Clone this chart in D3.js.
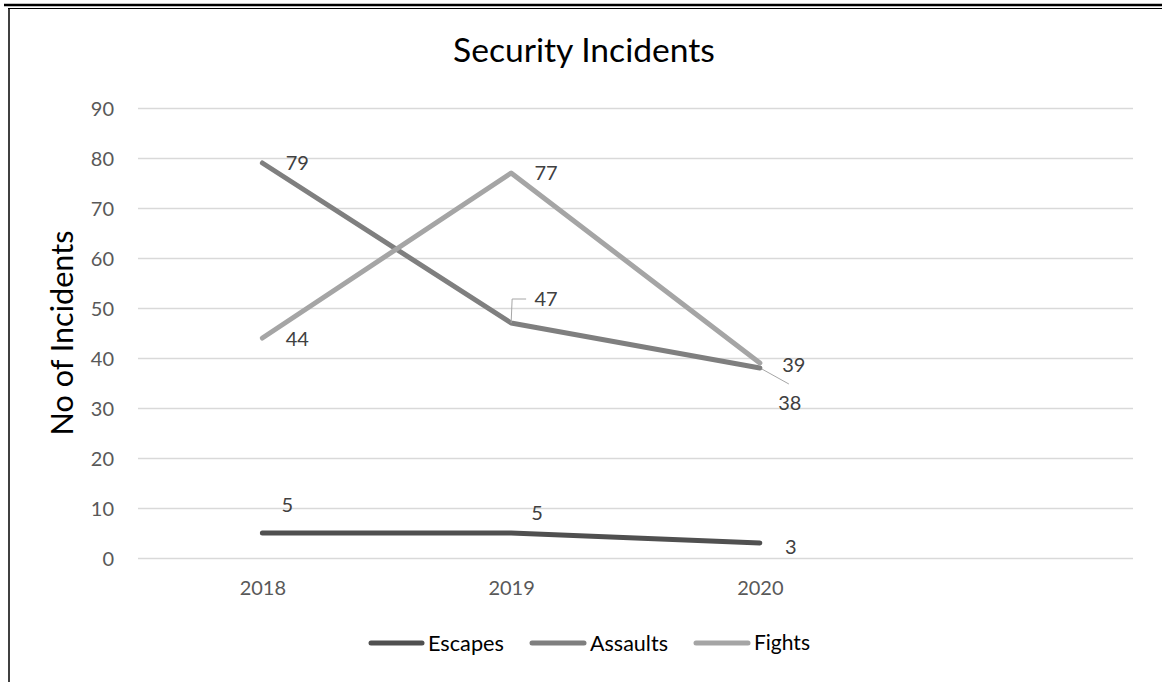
<!DOCTYPE html>
<html>
<head>
<meta charset="utf-8">
<script src="https://cdn.jsdelivr.net/npm/d3@7"></script>
<style>
html,body{margin:0;padding:0;background:#fff;}
svg{display:block;}
text{font-family:Lato,"Open Sans",sans-serif;}
</style>
</head>
<body>
<svg id="chart" width="1162" height="682"></svg>
<script>
const categories = ["2018", "2019", "2020", ""];
const years = ["2018", "2019", "2020"];
const escapes = [5, 5, 3];
const assaults = [79, 47, 38];
const fights = [44, 77, 39];
const yTicks = [0, 10, 20, 30, 40, 50, 60, 70, 80, 90];
const seriesNames = ["Escapes", "Assaults", "Fights"];
const title = "Security Incidents";
const yTitle = "No of Incidents";

const colors = {Escapes: "#505050", Assaults: "#7f7f7f", Fights: "#a5a5a5"};
const series = [
  {name: "Escapes", values: escapes},
  {name: "Assaults", values: assaults},
  {name: "Fights", values: fights}
];

const svg = d3.select("#chart");
const W = 1162, H = 682;

function fit(sel, target) {
  const n = sel.node();
  const base = parseFloat(sel.attr("font-size"));
  const w = n.getComputedTextLength();
  if (w > 0) sel.attr("font-size", base * target / w);
  return sel;
}

// page decoration: rule lines and chart border
svg.append("line").attr("x1", 4).attr("x2", W).attr("y1", 5).attr("y2", 5)
  .attr("stroke", "#000").attr("stroke-width", 2.5);
svg.append("line").attr("x1", 8).attr("x2", W).attr("y1", 8.5).attr("y2", 8.5)
  .attr("stroke", "#000").attr("stroke-width", 1);
svg.append("line").attr("x1", 9).attr("x2", 9).attr("y1", 8).attr("y2", H)
  .attr("stroke", "#000").attr("stroke-width", 1.5);

const x = d3.scalePoint().domain(categories).range([138, 1133]).padding(0.5);
const y = d3.scaleLinear().domain([0, 90]).range([558, 108]);

// gridlines
const yAxis = d3.axisLeft(y).tickValues(yTicks).tickSize(-(1133 - 138)).tickPadding(24);
const gy = svg.append("g").attr("transform", "translate(138,0)").call(yAxis);
gy.select(".domain").remove();
gy.selectAll(".tick line").attr("stroke", "#d9d9d9").attr("stroke-width", 1.5);
gy.selectAll(".tick text").attr("fill", "#595959").attr("font-size", 20)
  .attr("font-family", "Lato").attr("dy", "0.35em");

// x axis labels
const xAxis = d3.axisBottom(x).tickValues(years).tickSize(0).tickPadding(0);
const gx = svg.append("g").attr("transform", "translate(0,588)").call(xAxis);
gx.select(".domain").remove();
gx.selectAll(".tick text").attr("fill", "#595959").attr("font-size", 20)
  .attr("font-family", "Lato").attr("dy", "0.35em");

// title
const t = svg.append("text").attr("x", 584).attr("y", 62).attr("text-anchor", "middle")
  .attr("font-size", 28).attr("fill", "#000").text(title);
fit(t, 262);

// y title
const yt = svg.append("text").attr("transform", "translate(73,333) rotate(-90)")
  .attr("text-anchor", "middle").attr("font-size", 26).attr("fill", "#000").text(yTitle);
fit(yt, 205);

// lines
const line = d3.line().x((d, i) => x(years[i])).y(d => y(d));
svg.append("g").selectAll("path").data(series).join("path")
  .attr("d", d => line(d.values))
  .attr("fill", "none")
  .attr("stroke", d => colors[d.name])
  .attr("stroke-width", 5)
  .attr("stroke-linecap", "round")
  .attr("stroke-linejoin", "round");

// data labels: offsets (dx,dy) relative to the point, in px
const labelOffsets = {
  Escapes: [[25, -28], [26, -20], [31, 4]],
  Assaults: [[35, 0], [35, -24], [30, 35]],
  Fights: [[35, 1], [35, 0], [34, 2]]
};
const lg = svg.append("g");
series.forEach(s => {
  s.values.forEach((v, i) => {
    const px = x(years[i]), py = y(v);
    const [dx, dy] = labelOffsets[s.name][i];
    lg.append("text").attr("x", px + dx).attr("y", py + dy).attr("dy", "0.35em")
      .attr("text-anchor", "middle").attr("font-size", 20).attr("fill", "#404040")
      .text(v);
  });
});
// leader lines (Assaults 2019 and 2020)
const a19x = x("2019"), a19y = y(assaults[1]);
svg.append("path")
  .attr("d", `M${a19x},${a19y} L${a19x + 1},${a19y - 24} L${a19x + 15},${a19y - 24}`)
  .attr("fill", "none").attr("stroke", "#a6a6a6").attr("stroke-width", 1);
const a20x = x("2020"), a20y = y(assaults[2]);
svg.append("line").attr("x1", a20x + 2).attr("y1", a20y + 1)
  .attr("x2", a20x + 29).attr("y2", a20y + 16)
  .attr("stroke", "#a6a6a6").attr("stroke-width", 1);

// legend
const legendItems = [
  {name: "Escapes", x1: 371, x2: 422, tx: 428, tw: 76},
  {name: "Assaults", x1: 532, x2: 584, tx: 590, tw: 78},
  {name: "Fights", x1: 696, x2: 748, tx: 754, tw: 56}
];
const leg = svg.append("g");
legendItems.forEach(it => {
  leg.append("line").attr("x1", it.x1).attr("x2", it.x2).attr("y1", 643).attr("y2", 643)
    .attr("stroke", colors[it.name]).attr("stroke-width", 5).attr("stroke-linecap", "round");
  const tt = leg.append("text").attr("x", it.tx).attr("y", 643).attr("dy", "0.35em")
    .attr("font-size", 18).attr("fill", "#000").text(it.name);
  fit(tt, it.tw);
});
</script>
</body>
</html>
